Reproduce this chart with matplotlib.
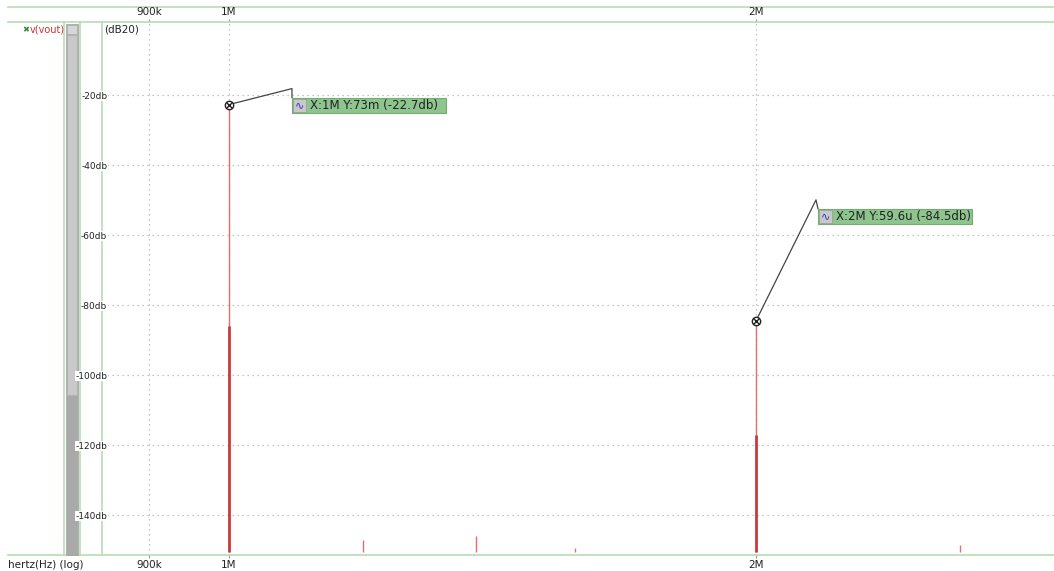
import matplotlib.pyplot as plt
import matplotlib.transforms as mtransforms
from matplotlib.patches import Rectangle
from matplotlib.lines import Line2D

# FFT of v(vout): spectral lines (Hz) and their level in dB
freqs = [1.0e6, 1.193e6, 1.384e6, 1.576e6, 2.0e6, 2.616e6]
levels = [-22.7, -147.0, -146.0, -149.5, -84.5, -148.5]
# neighbouring bins drawn on top of the two main lines
near_freqs = [1.0e6, 2.0e6]
near_levels = [-86.0, -117.0]

# cursor readouts
cursor_f = [1.0e6, 2.0e6]
cursor_db = [-22.7, -84.5]
cursor_text = ["X:1M Y:73m (-22.7db)", "X:2M Y:59.6u (-84.5db)"]
# elbow and box offsets from each cursor, in pixels (x right, y down)
elbow = [(63, -16), (60, -121)]
box_at = [(63, -7), (62, -112)]

xticks = [9e5, 1e6, 2e6]
xticklabels = ["900k", "1M", "2M"]
yticks = [-20, -40, -60, -80, -100, -120, -140]
yticklabels = ["-20db", "-40db", "-60db", "-80db", "-100db", "-120db", "-140db"]

W, H = 1054, 571
green = "#b8dcb8"
fs = 7.5


def px(x, y):
    return x / W, 1 - y / H


fig = plt.figure(figsize=(W / 100, H / 100), dpi=100)
fig.patch.set_facecolor("white")

x0, y1 = px(102, 22)
x1, y0 = px(1054, 555)
ax = fig.add_axes([x0, y0, x1 - x0, y1 - y0])
ax.set_xscale("log")
ax.set_xlim(846.2e3, 2.9597e6)
ax.set_ylim(-151.4, 0.9)

for s in ax.spines.values():
    s.set_color(green)
    s.set_linewidth(1.2)
ax.spines["right"].set_visible(False)
ax.spines["left"].set_zorder(0.5)

ax.set_xticks(xticks)
ax.set_xticklabels(xticklabels)
ax.xaxis.set_minor_locator(plt.NullLocator())
ax.tick_params(axis="x", which="both", top=True, labeltop=True, length=2,
               color="#999999", labelsize=fs, pad=1.5, labelcolor="#222222")
ax.set_yticks(yticks)
ax.set_yticklabels(yticklabels)
ax.tick_params(axis="y", length=0, pad=-3.8, labelsize=6.5, labelcolor="#222222")
for lab in ax.get_yticklabels():
    lab.set_bbox(dict(facecolor="white", edgecolor="none", pad=0.2))

ax.grid(True, which="major", color="#b4b4b4", linestyle=(0, (1, 3)), linewidth=0.9)

# spectrum lines from the floor up to each level
floor = -150.5
ax.vlines(freqs, floor, levels, color="#e07070", linewidth=1.0, zorder=3)
ax.vlines(near_freqs, floor, near_levels, color="#c83c3c", linewidth=2.0, zorder=3)

ax.text(0.002, 1 - 8 / 533, "(dB20)", transform=ax.transAxes, fontsize=fs,
        color="#222222", va="center", ha="left")

# cursors with leader lines and readout boxes
for f, db, txt, (ex, ey), (bx, by) in zip(cursor_f, cursor_db, cursor_text, elbow, box_at):
    tr = mtransforms.IdentityTransform() + mtransforms.ScaledTranslation(f, db, ax.transData)
    ax.add_line(Line2D([0, ex, bx], [0, -ey, -by], color="#444444", linewidth=0.9,
                       transform=tr, zorder=6, clip_on=False))
    ax.add_patch(Rectangle((bx, -by - 15), 154, 15, facecolor="#8ec48e",
                           edgecolor="#6fae6f", linewidth=0.8, transform=tr, zorder=6,
                           clip_on=False))
    ax.add_patch(Rectangle((bx + 1, -by - 14), 13, 13, facecolor="#c8c8c8",
                           edgecolor="#999999", linewidth=0.5, transform=tr, zorder=7,
                           clip_on=False))
    ax.text(bx + 7.5, -by - 7.5, "∿", transform=tr, fontsize=8, color="#2233dd",
            ha="center", va="center", zorder=8)
    ax.text(bx + 18, -by - 7.5, txt, transform=tr, fontsize=8.5, color="#222222",
            ha="left", va="center", zorder=8)
    ax.plot([f], [db], marker="o", markersize=6, markerfacecolor="white",
            markeredgecolor="#222222", markeredgewidth=1.0, zorder=9, clip_on=False)
    ax.plot([f], [db], marker="x", markersize=4, color="#222222",
            markeredgewidth=1.0, zorder=10, clip_on=False)

# window frame: header line, left panel and scroll bar
frame = dict(color=green, linewidth=1.2, zorder=-1)
fig.add_artist(Line2D([8 / W, 1], [px(0, 7)[1]] * 2, **frame))
fig.add_artist(Line2D([8 / W, x0], [y1, y1], **frame))
fig.add_artist(Line2D([8 / W, x0], [y0, y0], **frame))
for xv in (64, 80):
    fig.add_artist(Line2D([xv / W] * 2, [px(0, 23)[1], y0], **frame))

sx, sy = px(66, 555)
fig.add_artist(Rectangle((sx, sy), 12 / W, 531 / H, transform=fig.transFigure,
                         facecolor="#a9a9a9", edgecolor="#a0a0a0", linewidth=0.5,
                         zorder=-1))
tx, ty = px(67, 395)
fig.add_artist(Rectangle((tx, ty), 10 / W, 360 / H, transform=fig.transFigure,
                         facecolor="#c9c9c9", edgecolor="#b0b0b0", linewidth=0.5,
                         zorder=-1))
ux, uy = px(67, 34)
fig.add_artist(Rectangle((ux, uy), 10 / W, 9 / H, transform=fig.transFigure,
                         facecolor="#d6d6d6", edgecolor="#b0b0b0", linewidth=0.5,
                         zorder=-1))

fig.text(*px(26, 30), "✖", fontsize=6, color="#3a8a3a", ha="center", va="center")
fig.text(*px(30, 30), "v(vout)", fontsize=7, color="#cc3333", ha="left", va="center")
fig.text(*px(8, 565), "hertz(Hz) (log)", fontsize=fs, color="#222222",
         ha="left", va="center")

fig.savefig("out.png", dpi=100)
